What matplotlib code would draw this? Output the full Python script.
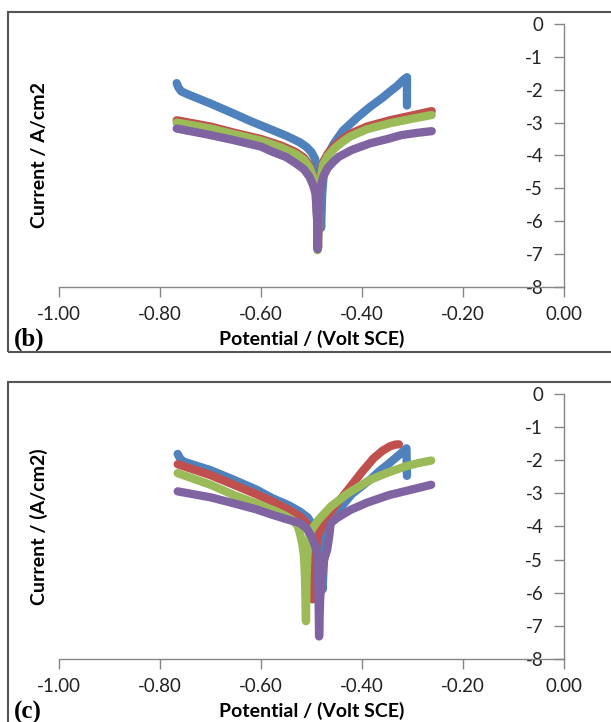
import numpy as np
import matplotlib.pyplot as plt
from matplotlib.patches import Rectangle

plt.rcParams['font.family'] = ['Lato', 'DejaVu Sans']

# Tafel curves (potential V vs SCE, log current A/cm2), panel (b)
b_blue_E = [-0.767, -0.764, -0.758, -0.745, -0.724, -0.700, -0.655, -0.620, -0.577, -0.550, -0.523,
            -0.510, -0.500, -0.493, -0.488, -0.484, -0.481,
            -0.479, -0.476, -0.472, -0.465, -0.455, -0.438, -0.410, -0.384, -0.360, -0.345, -0.330,
            -0.318, -0.311, -0.311]
b_blue_I = [-1.80, -1.92, -2.05, -2.14, -2.27, -2.42, -2.72, -2.96, -3.23, -3.40, -3.60,
            -3.74, -3.90, -4.10, -4.45, -5.20, -6.20,
            -5.20, -4.60, -4.20, -3.90, -3.62, -3.25, -2.85, -2.52, -2.25, -2.06, -1.88,
            -1.70, -1.62, -2.48]
b_red_E = [-0.767, -0.700, -0.655, -0.600, -0.560, -0.531, -0.515, -0.504, -0.497, -0.492, -0.489, -0.487,
           -0.485, -0.481, -0.477, -0.468, -0.454, -0.440, -0.423, -0.390, -0.345, -0.300, -0.262]
b_red_I = [-2.93, -3.12, -3.30, -3.50, -3.70, -3.90, -4.07, -4.30, -4.60, -4.95, -5.80, -6.80,
           -5.20, -4.60, -4.20, -3.95, -3.70, -3.52, -3.34, -3.12, -2.93, -2.78, -2.65]
b_green_E = [-0.767, -0.700, -0.655, -0.600, -0.560, -0.531, -0.515, -0.504, -0.497, -0.492, -0.489, -0.488,
             -0.485, -0.481, -0.477, -0.468, -0.454, -0.440, -0.423, -0.390, -0.345, -0.300, -0.262]
b_green_I = [-3.00, -3.18, -3.35, -3.55, -3.76, -3.96, -4.13, -4.37, -4.65, -5.00, -5.90, -6.88,
             -5.20, -4.65, -4.28, -4.02, -3.78, -3.60, -3.42, -3.20, -3.02, -2.88, -2.77]
b_purple_E = [-0.767, -0.700, -0.655, -0.600, -0.577, -0.550, -0.531, -0.515, -0.504, -0.497, -0.492,
              -0.489, -0.488, -0.485, -0.481, -0.477, -0.468, -0.456, -0.446, -0.420, -0.384, -0.350,
              -0.322, -0.290, -0.262]
b_purple_I = [-3.18, -3.38, -3.53, -3.73, -3.89, -4.05, -4.24, -4.42, -4.65, -4.90, -5.16,
              -5.90, -6.85, -5.40, -4.90, -4.65, -4.38, -4.18, -4.04, -3.83, -3.63, -3.50,
              -3.38, -3.31, -3.26]

# panel (c)
c_blue_E = [-0.765, -0.760, -0.754, -0.700, -0.654, -0.610, -0.577, -0.545, -0.523, -0.508, -0.500,
            -0.492, -0.486, -0.480, -0.478,
            -0.476, -0.474, -0.469, -0.458, -0.446, -0.420, -0.385, -0.365, -0.346, -0.325, -0.312,
            -0.311]
c_blue_I = [-1.81, -1.95, -2.04, -2.30, -2.59, -2.88, -3.15, -3.36, -3.55, -3.72, -3.90,
            -4.10, -4.45, -5.20, -5.90,
            -5.20, -4.60, -4.00, -3.72, -3.50, -3.02, -2.60, -2.32, -2.09, -1.82, -1.64,
            -2.47]
c_red_E = [-0.765, -0.700, -0.654, -0.610, -0.577, -0.545, -0.523, -0.510, -0.504, -0.501, -0.500, -0.498,
           -0.495, -0.492, -0.488, -0.480, -0.469, -0.445, -0.423, -0.400, -0.377, -0.360, -0.346,
           -0.335, -0.327]
c_red_I = [-2.12, -2.45, -2.74, -3.02, -3.25, -3.50, -3.70, -3.90, -4.20, -4.60, -5.20, -6.20,
           -5.40, -4.80, -4.30, -4.00, -3.70, -3.22, -2.80, -2.35, -1.94, -1.72, -1.59,
           -1.53, -1.52]
c_green_E = [-0.765, -0.700, -0.654, -0.610, -0.577, -0.555, -0.538, -0.528, -0.523, -0.518, -0.515,
             -0.513, -0.512, -0.511,
             -0.510, -0.508, -0.504, -0.500, -0.485, -0.462, -0.430, -0.385, -0.350, -0.315, -0.290,
             -0.263]
c_green_I = [-2.39, -2.74, -3.05, -3.30, -3.50, -3.65, -3.80, -3.97, -4.20, -4.55, -4.90,
             -5.50, -6.20, -6.86,
             -5.60, -4.80, -4.35, -4.10, -3.78, -3.40, -3.02, -2.60, -2.38, -2.19, -2.09,
             -2.01]
c_purple_E = [-0.765, -0.700, -0.654, -0.610, -0.577, -0.545, -0.523, -0.510, -0.500, -0.493, -0.488,
              -0.486, -0.485,
              -0.483, -0.480, -0.475, -0.469, -0.465, -0.462, -0.450, -0.423, -0.390, -0.346, -0.300,
              -0.263]
c_purple_I = [-2.94, -3.12, -3.30, -3.48, -3.65, -3.80, -3.90, -4.05, -4.30, -4.58, -4.90,
              -6.20, -7.32,
              -6.20, -5.60, -5.00, -4.70, -4.30, -3.90, -3.75, -3.50, -3.28, -3.05, -2.88,
              -2.74]

x_ticks = [-1.0, -0.8, -0.6, -0.4, -0.2, 0.0]
y_ticks = [0, -1, -2, -3, -4, -5, -6, -7, -8]

colors = ['#4F81BD', '#C0504D', '#9BBB59', '#8064A2']

fig = plt.figure(figsize=(6.11, 7.22), dpi=100)

# panel frames
fig.patches.append(Rectangle((0.013, 0.5125), 1.0, 0.471, transform=fig.transFigure,
                             fill=False, edgecolor='#555555', lw=1.5, zorder=0))
fig.patches.append(Rectangle((0.013, -0.01), 1.0, 0.481, transform=fig.transFigure,
                             fill=False, edgecolor='#555555', lw=1.5, zorder=0))

ax_b = fig.add_axes([0.0966, 0.6025, 0.8265, 0.3643])
ax_c = fig.add_axes([0.0966, 0.0873, 0.8265, 0.3670])

panels = [
    (ax_b, [(b_blue_E, b_blue_I), (b_red_E, b_red_I), (b_green_E, b_green_I), (b_purple_E, b_purple_I)],
     'Current / A/cm2', '(b)'),
    (ax_c, [(c_blue_E, c_blue_I), (c_red_E, c_red_I), (c_green_E, c_green_I), (c_purple_E, c_purple_I)],
     'Current / (A/cm2)', '(c)'),
]

for ax, series, ylab, tag in panels:
    for (E, I), col in zip(series, colors):
        ax.plot(E, I, color=col, lw=6, solid_capstyle='round', solid_joinstyle='round')
    ax.set_xlim(-1.0, 0.0)
    ax.set_ylim(-8, 0)
    ax.set_xticks(x_ticks)
    ax.set_xticklabels(['%.2f' % v for v in x_ticks])
    ax.set_yticks(y_ticks)
    ax.set_yticklabels([str(v) for v in y_ticks])
    ax.spines['top'].set_visible(False)
    ax.spines['right'].set_visible(False)
    ax.spines['left'].set_position(('data', 0.0))
    for s in ['left', 'bottom']:
        ax.spines[s].set_color('#868686')
        ax.spines[s].set_linewidth(1.0)
    ax.tick_params(axis='both', direction='out', length=7, width=1.0, color='#868686',
                   labelsize=13.5, labelcolor='#222222')
    ax.tick_params(axis='x', pad=7)
    ax.tick_params(axis='y', pad=8)
    ax.patch.set_alpha(0)
    ax.set_xlabel('Potential / (Volt SCE)', fontsize=14, fontweight='bold', labelpad=5)
    ax.set_ylabel(ylab, fontsize=14, fontweight='bold')
    ax.yaxis.set_label_coords(-0.022, 0.5)
    ax.text(-0.09, -0.2, tag, transform=ax.transAxes, fontsize=18, fontweight='bold',
            family='Liberation Serif', va='center', ha='left')

fig.savefig('out.png', dpi=100)
